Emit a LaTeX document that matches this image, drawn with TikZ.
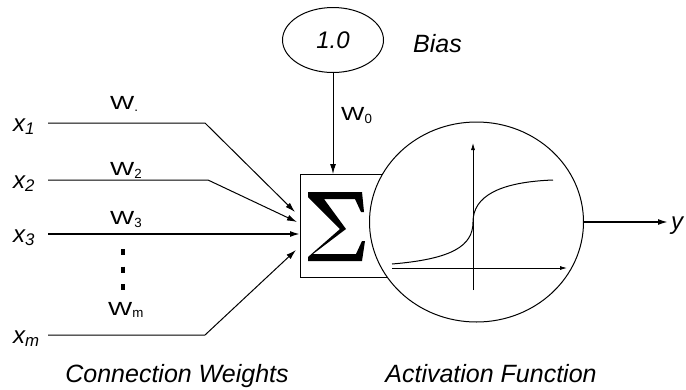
\documentclass[tikz,border=0pt]{standalone}
\usepackage{fontspec}
\setmainfont{Liberation Sans}
\usetikzlibrary{arrows.meta,shapes.geometric}
\begin{document}
\begin{tikzpicture}[x=1pt,y=-1pt,
  wire/.style={line width=1pt},
  arr/.style={wire,-{Latex[length=10pt,width=6pt]}},
  axarr/.style={line width=0.8pt,-{Latex[length=7pt,width=4pt]}},
  xlab/.style={font=\fontsize{24}{24}\selectfont\itshape, inner sep=0pt},
  wlab/.style={font=\fontsize{19}{19}\selectfont, inner sep=0pt},
  caplab/.style={font=\fontsize{25}{25}\selectfont\itshape, inner sep=0pt}]
\useasboundingbox (0,0) rectangle (686,389);

% summation box and activation circle
\node[draw, line width=1pt, minimum width=92pt, minimum height=103pt, inner sep=0pt, anchor=north west] (sum) at (300,174) {};
\fill (308,192) -- (362,192) -- (364,212) -- (361,212) -- (355,199) -- (324,199)
  -- (346,229) -- (313,254) -- (356,254) -- (362,241) -- (365,241) -- (362,261)
  -- (308,261) -- (308,257) -- (340,229) -- (308,197) -- cycle;
\node[ellipse, draw, line width=1pt, fill=white, minimum width=214pt, minimum height=200pt, inner sep=0pt] (act) at (476.5,222) {};

% bias
\node[ellipse, draw, line width=1pt, minimum width=101pt, minimum height=65pt, inner sep=0pt, font=\fontsize{24}{24}\selectfont\itshape] (bias) at (333,40) {1.0};
\node[caplab, anchor=base west] (biaslab) at (413,52) {Bias};
\draw[arr] (bias.south) -- (bias.south |- sum.north);
\node[wlab, anchor=base west] (w0) at (341,120) {\scalebox{1.3}[1]{W}\textsubscript{0}};

% inputs
\node[xlab, anchor=base west] (x1) at (13,131) {x\textsubscript{\itshape 1}};
\node[xlab, anchor=base west] (x2) at (13,188) {x\textsubscript{\itshape 2}};
\node[xlab, anchor=base west] (x3) at (13,242) {x\textsubscript{\itshape 3}};
\node[xlab, anchor=base west] (xm) at (13,343) {x\textsubscript{\itshape m}};

\coordinate (s1) at (48,123);  \coordinate (b1) at (205,123); \coordinate (t1) at (295,212);
\coordinate (s2) at (48,180);  \coordinate (b2) at (208,180); \coordinate (t2) at (297,222);
\coordinate (s3) at (48,234);  \coordinate (t3) at (sum.west |- s3);
\coordinate (sm) at (48,335);  \coordinate (bm) at (205,335); \coordinate (tm) at (296,250);

\draw[arr] (s1) -- (b1) -- (t1);
\draw[arr] (s2) -- (b2) -- (t2);
\draw[arr, line width=1.6pt] (s3) -- (t3);
\draw[arr] (sm) -- (bm) -- (tm);

\node[wlab, anchor=base west] (w1) at (110,109) {\scalebox{1.35}[1]{W}\textsubscript{.}};
\node[wlab, anchor=base west] (w2) at (110,175) {\scalebox{1.35}[1]{W}\textsubscript{2}};
\node[wlab, anchor=base west] (w3) at (110,224) {\scalebox{1.35}[1]{W}\textsubscript{3}};
\node[wlab, anchor=base west] (wm) at (108,315) {\scalebox{1.35}[1]{W}\textsubscript{m}};

% vertical dots
\draw[line width=4pt, dash pattern=on 6pt off 11.5pt] (123,249) -- (123,291);

% activation graph
\draw[axarr] (473,290) -- (473,143);
\draw[axarr] (392,268) -- (567,268);
\draw[line width=1pt] (392,264) .. controls (452,259) and (473,246) .. (473,222)
  .. controls (473,196) and (500,182) .. (553,180);

% output
\coordinate (yend) at (668,222);
\draw[arr, line width=1.6pt] (act.east) -- (yend);
\node[xlab, anchor=base west] (y) at (671,229) {y};

% captions
\node[caplab, anchor=base] (cw) at (177,382) {Connection Weights};
\node[caplab, anchor=base] (af) at (491,382) {Activation Function};
\end{tikzpicture}
\end{document}
